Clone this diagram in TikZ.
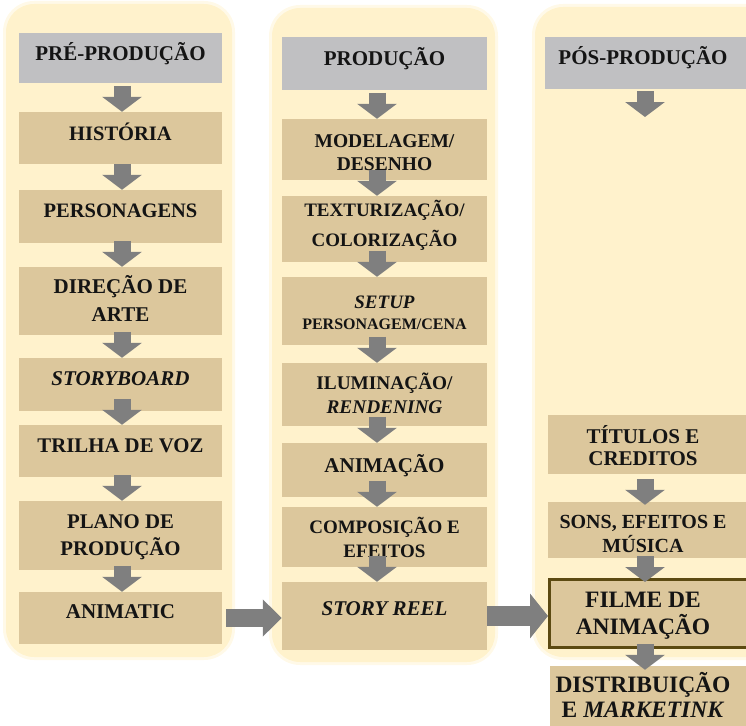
\documentclass[tikz,border=0pt]{standalone}
\usepackage{fontspec}
\setmainfont{Liberation Serif}
\usetikzlibrary{arrows.meta}

\definecolor{cream}{HTML}{FFF2CC}
\definecolor{tan}{HTML}{DCC79C}
\definecolor{headgray}{HTML}{C0C0C2}
\definecolor{arrowgray}{HTML}{7F7F7F}
\definecolor{filmeborder}{HTML}{5C4A12}
\definecolor{inkblack}{HTML}{141414}

% one block of centred lines; its baseline is the baseline of the first line
\newcommand{\stagetext}[3]{\fontsize{#1pt}{#2pt}\selectfont\begin{tabular}[t]{@{}c@{}}#3\end{tabular}}

\tikzset{
  phasebg/.style={fill=cream, rounded corners=28pt},
  phaseglow/.style={fill=cream, opacity=0.45, rounded corners=31pt},
  tanbox/.style={rectangle, fill=tan, inner sep=0pt},
  headbox/.style={rectangle, fill=headgray, inner sep=0pt},
  lbl/.style={anchor=base, inner sep=0pt, text=inkblack, font=\bfseries},
  downflow/.style={draw=arrowgray, line width=17pt,
    -{Triangle[width=39pt,length=15pt]},
    to path={([xshift=#1,yshift=26pt]\tikztotarget) -- ([xshift=#1]\tikztotarget)}},
  downflow/.default=0pt,
  rightflowA/.style={draw=arrowgray, line width=18pt, -{Triangle[width=36pt,length=19pt]}},
  rightflowB/.style={draw=arrowgray, line width=20pt, -{Triangle[width=44pt,length=18pt]}},
}

\begin{document}
\begin{tikzpicture}[x=1pt,y=-1pt]
\useasboundingbox (0,0) rectangle (746,725);
\clip (0,0) rectangle (746,725);

% phase backgrounds
\fill[phaseglow] (3,1) rectangle (235,660);
\fill[phaseglow] (269,5) rectangle (498,665);
\fill[phaseglow] (532,4) rectangle (778,660);
\fill[phasebg] (6,4) rectangle (232,657);
\fill[phasebg] (272,8) rectangle (495,662);
\fill[phasebg] (535,7) rectangle (775,657);

% ---------- pre-production ----------
\node[headbox, minimum width=203pt, minimum height=50pt] (h1) at (120.5,58) {};
\node[tanbox, minimum width=203pt, minimum height=52pt] (hist) at (120.5,138) {};
\node[tanbox, minimum width=203pt, minimum height=53pt] (pers) at (120.5,216.5) {};
\node[tanbox, minimum width=203pt, minimum height=68pt] (dir) at (120.5,301) {};
\node[tanbox, minimum width=203pt, minimum height=53pt] (story) at (120.5,384.5) {};
\node[tanbox, minimum width=203pt, minimum height=52pt] (voz) at (120.5,451) {};
\node[tanbox, minimum width=203pt, minimum height=69pt] (plano) at (120.5,535.5) {};
\node[tanbox, minimum width=203pt, minimum height=52pt] (anim) at (120.5,618) {};

\node[lbl] (t-h1) at (120.5,60) {\stagetext{21}{25}{PRÉ-PRODUÇÃO}};
\node[lbl] (t-hist) at (120.5,140) {\stagetext{20.5}{25}{HISTÓRIA}};
\node[lbl] (t-pers) at (120.5,217) {\stagetext{20.5}{25}{PERSONAGENS}};
\node[lbl] (t-dir) at (120.5,293) {\stagetext{21}{28}{DIREÇÃO DE\\ARTE}};
\node[lbl] (t-story) at (120.5,385) {\stagetext{21}{25}{\itshape STORYBOARD}};
\node[lbl] (t-voz) at (120.5,452) {\stagetext{20.8}{25}{TRILHA DE VOZ}};
\node[lbl] (t-plano) at (120.5,528) {\stagetext{20.8}{27}{PLANO DE\\PRODUÇÃO}};
\node[lbl] (t-anim) at (120.5,618) {\stagetext{21}{25}{ANIMATIC}};

% ---------- production ----------
\node[headbox, minimum width=205pt, minimum height=53pt] (h2) at (384.5,63.5) {};
\node[tanbox, minimum width=205pt, minimum height=61pt] (mod) at (384.5,149.5) {};
\node[tanbox, minimum width=205pt, minimum height=66pt] (tex) at (384.5,229) {};
\node[tanbox, minimum width=205pt, minimum height=68pt] (setup) at (384.5,311) {};
\node[tanbox, minimum width=205pt, minimum height=63pt] (ilum) at (384.5,394.5) {};
\node[tanbox, minimum width=205pt, minimum height=54pt] (anima) at (384.5,470) {};
\node[tanbox, minimum width=205pt, minimum height=60pt] (comp) at (384.5,537) {};
\node[tanbox, minimum width=205pt, minimum height=68pt] (reel) at (384.5,616) {};

\node[lbl] (t-h2) at (384.5,65) {\stagetext{21}{25}{PRODUÇÃO}};
\node[lbl] (t-mod) at (384.5,147) {\stagetext{19.5}{23}{MODELAGEM/\\DESENHO}};
\node[lbl] (t-tex) at (384.5,216) {\stagetext{19}{30}{TEXTURIZAÇÃO/\\COLORIZAÇÃO}};
\node[lbl] (t-setup) at (384.5,308) {\stagetext{16}{21}{{\fontsize{19pt}{21pt}\selectfont\itshape SETUP}\\PERSONAGEM/CENA}};
\node[lbl] (t-ilum) at (384.5,389) {\stagetext{19.3}{24}{ILUMINAÇÃO/\\\itshape RENDENING}};
\node[lbl] (t-anima) at (384.5,472) {\stagetext{21}{25}{ANIMAÇÃO}};
\node[lbl] (t-comp) at (384.5,533) {\stagetext{19}{24}{COMPOSIÇÃO E\\EFEITOS}};
\node[lbl] (t-reel) at (384.5,615) {\stagetext{21}{25}{\itshape STORY REEL}};

% ---------- post-production ----------
\node[headbox, minimum width=215pt, minimum height=52pt] (h3) at (652.5,63) {};
\node[tanbox, minimum width=212pt, minimum height=59pt] (tit) at (654,444.5) {};
\node[tanbox, minimum width=212pt, minimum height=56pt] (sons) at (654,530) {};
\node[tanbox, draw=filmeborder, line width=3pt, minimum width=209pt, minimum height=68pt] (filme) at (654,613.5) {};
\node[tanbox, minimum width=210pt, minimum height=74pt] (dist) at (655,703) {};
\coordinate (postgap) at (645,117);

\node[lbl] (t-h3) at (643,64) {\stagetext{21}{25}{PÓS-PRODUÇÃO}};
\node[lbl] (t-tit) at (643,443) {\stagetext{21}{22}{TÍTULOS E\\CREDITOS}};
\node[lbl] (t-sons) at (643,528) {\stagetext{20}{24}{SONS, EFEITOS E\\MÚSICA}};
\node[lbl] (t-filme) at (643,607) {\stagetext{23.5}{26}{FILME DE\\ANIMAÇÃO}};
\node[lbl] (t-dist) at (643,692) {\stagetext{23.5}{25}{DISTRIBUIÇÃO\\E \textit{MARKETINK}}};

% ---------- flow inside each phase ----------
\draw[downflow=1.5pt] (h1) to (hist.north);
\draw[downflow=1.5pt] (hist) to (pers.north);
\draw[downflow=1.5pt] (pers) to (dir.north);
\draw[downflow=1.5pt] (dir) to (story.north);
\draw[downflow=1.5pt] (story) to (voz.north);
\draw[downflow=1.5pt] (voz) to (plano.north);
\draw[downflow=1.5pt] (plano) to (anim.north);

\draw[downflow=-7.5pt] (h2) to (mod.north);
\draw[downflow=-7.5pt] (mod) to (tex.north);
\draw[downflow=-7.5pt] (tex) to (setup.north);
\draw[downflow=-7.5pt] (setup) to (ilum.north);
\draw[downflow=-7.5pt] (ilum) to (anima.north);
\draw[downflow=-7.5pt] (anima) to (comp.north);
\draw[downflow=-7.5pt] (comp) to (reel.north);

\draw[downflow] (h3) to (postgap);
\draw[downflow=-9pt] (tit) to ([yshift=-3pt]sons.north);
\draw[downflow=-9pt] (sons) to ([yshift=-4pt]filme.north);
\draw[downflow=-10pt] (filme) to ([yshift=-4pt]dist.north);

% ---------- flow between phases ----------
\draw[rightflowA, shorten <=4pt] (anim.east) -- (anim.east -| reel.west);
\draw[rightflowB] (reel.east) -- (reel.east -| filme.west);
\end{tikzpicture}
\end{document}
